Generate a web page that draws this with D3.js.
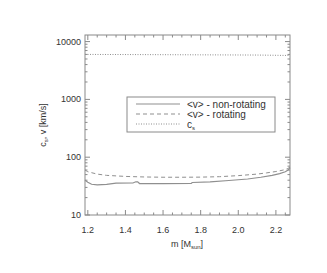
<!DOCTYPE html>
<html>
<head>
<meta charset="utf-8">
<script src="https://cdn.jsdelivr.net/npm/d3@7.9.0/dist/d3.min.js"></script>
<style>
  body { margin: 0; background: #fff; }
  svg { display: block; font-family: "Liberation Sans", Arial, sans-serif; }
</style>
</head>
<body>
<svg id="chart" width="327" height="273"></svg>
<script>
// data
const massNonRot = [1.185, 1.2, 1.22, 1.25, 1.3, 1.35, 1.44, 1.455, 1.465, 1.475, 1.6, 1.75, 1.755, 1.85, 1.95, 2.05, 2.12, 2.18, 2.22, 2.25, 2.265, 2.275];
const vNonRot = [40, 37, 34, 33.3, 34, 35.5, 35.8, 37.5, 37.5, 35, 35, 35.2, 36.5, 37.5, 39.5, 42, 45, 48.5, 52, 56, 60, 66];
const massRot = [1.185, 1.2, 1.25, 1.3, 1.4, 1.5, 1.6, 1.7, 1.8, 1.9, 2.0, 2.1, 2.15, 2.2, 2.24, 2.26, 2.275];
const vRot = [60, 56, 51, 48.5, 46.5, 45.5, 45, 45, 45.2, 46, 48, 51, 53.5, 56.5, 60, 63, 67];
const massCs = [1.185, 1.5, 1.8, 2.1, 2.275];
const cs = [6000, 5950, 5900, 5850, 5750];

const xTicks = [1.2, 1.4, 1.6, 1.8, 2.0, 2.2];
const yTicks = [10, 100, 1000, 10000];

const svg = d3.select('#chart');
const pLeft = 85, pRight = 290, pTop = 35, pBottom = 215;
const axisColor = '#8a8a8a', textColor = '#333';

let x = d3.scaleLinear().domain([1.185, 2.275]).range([pLeft, pRight]);
let y = d3.scaleLog().domain([10, 13000]).range([pBottom, pTop]);

// frame
svg.append('rect')
  .attr('x', pLeft).attr('y', pTop)
  .attr('width', pRight - pLeft).attr('height', pBottom - pTop)
  .attr('fill', 'none').attr('stroke', axisColor).attr('stroke-width', 1);

// x ticks (inward, bottom and top)
let xMinor = d3.range(1.2, 2.26, 0.05).map(d => +d.toFixed(2));
xMinor.forEach(d => {
  let major = xTicks.some(t => Math.abs(t - d) < 1e-6);
  let len = major ? 5 : 2.5;
  svg.append('line').attr('x1', x(d)).attr('x2', x(d))
    .attr('y1', pBottom).attr('y2', pBottom - len).attr('stroke', axisColor);
  svg.append('line').attr('x1', x(d)).attr('x2', x(d))
    .attr('y1', pTop).attr('y2', pTop + len).attr('stroke', axisColor);
});
xTicks.forEach(d => {
  svg.append('text').attr('x', x(d)).attr('y', 233)
    .attr('text-anchor', 'middle').attr('font-size', 9).attr('fill', textColor)
    .text(d.toFixed(1));
});

// y ticks (log, inward, left and right)
let yMinor = [];
[10, 100, 1000, 10000].forEach(dec => {
  for (let k = 1; k <= 9; k++) {
    if (dec * k <= 13000) yMinor.push(dec * k);
  }
});
yMinor.forEach(d => {
  let major = yTicks.includes(d);
  let len = major ? 5 : 2.5;
  svg.append('line').attr('x1', pLeft).attr('x2', pLeft + len)
    .attr('y1', y(d)).attr('y2', y(d)).attr('stroke', axisColor);
  svg.append('line').attr('x1', pRight).attr('x2', pRight - len)
    .attr('y1', y(d)).attr('y2', y(d)).attr('stroke', axisColor);
});
yTicks.forEach(d => {
  svg.append('text').attr('x', pLeft - 4).attr('y', y(d) + 3)
    .attr('text-anchor', 'end').attr('font-size', 9).attr('fill', textColor)
    .text(d);
});

// axis titles
let xt = svg.append('text').attr('x', 187).attr('y', 247)
  .attr('text-anchor', 'middle').attr('font-size', 9).attr('fill', textColor);
xt.append('tspan').text('m [M');
xt.append('tspan').attr('font-size', 6).attr('dy', 2).text('sun');
xt.append('tspan').attr('dy', -2).text(']');

let yt = svg.append('text').attr('transform', 'translate(46,125) rotate(-90)')
  .attr('text-anchor', 'middle').attr('font-size', 9).attr('fill', textColor);
yt.append('tspan').text('c');
yt.append('tspan').attr('font-size', 6).attr('dy', 2).text('s');
yt.append('tspan').attr('dy', -2).text(', v [km/s]');

// curves
let line = d3.line().x(d => x(d[0])).y(d => y(d[1]));
let series = [
  { m: massNonRot, v: vNonRot, dash: null, w: 1.2 },
  { m: massRot, v: vRot, dash: '4,3', w: 1 },
  { m: massCs, v: cs, dash: '1,1.5', w: 1 }
];
series.forEach(s => {
  svg.append('path')
    .attr('d', line(d3.zip(s.m, s.v)))
    .attr('fill', 'none').attr('stroke', '#8f8f8f')
    .attr('stroke-width', s.w)
    .attr('stroke-dasharray', s.dash);
});

// legend
svg.append('rect').attr('x', 127).attr('y', 97).attr('width', 148).attr('height', 35)
  .attr('fill', '#fff').attr('stroke', axisColor);
let legendRows = [
  { label: '<v> - non-rotating', dash: null, w: 1.2 },
  { label: '<v> - rotating', dash: '4,3', w: 1 },
  { label: 'c', sub: 's', dash: '1,1.5', w: 1 }
];
legendRows.forEach((r, i) => {
  let ly = 104 + i * 10;
  svg.append('line').attr('x1', 136).attr('x2', 180).attr('y1', ly).attr('y2', ly)
    .attr('stroke', '#8f8f8f').attr('stroke-width', r.w).attr('stroke-dasharray', r.dash);
  let t = svg.append('text').attr('x', 187).attr('y', ly + 3.5)
    .attr('font-size', 10).attr('fill', textColor);
  t.append('tspan').text(r.label);
  if (r.sub) t.append('tspan').attr('font-size', 6).attr('dy', 2).text(r.sub);
});
</script>
</body>
</html>
